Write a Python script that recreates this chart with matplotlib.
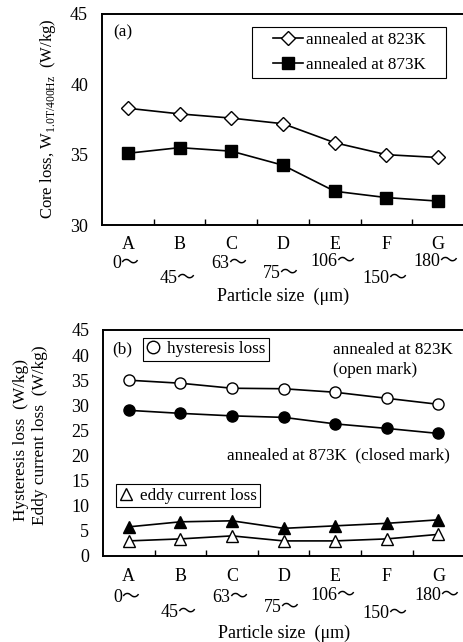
#!/usr/bin/env python3
"""Core loss and loss separation vs particle size, two stacked panels."""

import matplotlib
matplotlib.use("Agg")
import matplotlib.pyplot as plt
from matplotlib.lines import Line2D
from matplotlib.patches import Rectangle

plt.rcParams["font.family"] = ["Liberation Serif", "Noto Sans CJK JP"]
plt.rcParams["mathtext.fontset"] = "custom"
plt.rcParams["mathtext.rm"] = "Liberation Serif"
plt.rcParams["font.size"] = 12.5

letters = ["A", "B", "C", "D", "E", "F", "G"]
sizes = ["0～", "45～", "63～", "75～", "106～", "150～", "180～"]

core_823 = [38.3, 37.9, 37.6, 37.2, 35.85, 35.0, 34.8]
core_873 = [35.1, 35.5, 35.25, 34.25, 32.4, 31.95, 31.7]

hyst_823 = [35.0, 34.4, 33.4, 33.3, 32.6, 31.4, 30.2]
hyst_873 = [29.0, 28.4, 27.9, 27.6, 26.3, 25.4, 24.4]
eddy_823 = [3.0, 3.4, 4.0, 3.0, 3.0, 3.4, 4.3]
eddy_873 = [5.8, 6.8, 7.0, 5.5, 6.0, 6.5, 7.2]

x = list(range(len(letters)))

fig = plt.figure(figsize=(4.63, 6.42), dpi=100)
ax1 = fig.add_axes([0.2203, 0.6495, 0.782, 0.3287])
ax2 = fig.add_axes([0.2225, 0.134, 0.780, 0.352])

TICK = 13
TXT = 12.3


def style(ax, num_off, let_off, lab_off):
    ax.set_xlim(-0.5, 6.5)
    ax.set_xticks(x)
    ax.set_xticklabels([])
    ax.set_xticks([i + 0.5 for i in x[:-1]], minor=True)
    ax.tick_params(axis="x", which="major", length=0)
    ax.tick_params(axis="x", which="minor", direction="in", length=4, width=1)
    ax.tick_params(axis="y", length=0, pad=10, labelsize=TICK)
    for s in ax.spines.values():
        s.set_linewidth(1.4)
    for i in x:
        ax.annotate(letters[i], (i, 0), xycoords=("data", "axes fraction"),
                    xytext=(0, -let_off), textcoords="offset pixels",
                    ha="center", va="center", fontsize=TICK)
        ax.annotate(sizes[i], (i, 0), xycoords=("data", "axes fraction"),
                    xytext=(-2, -num_off[i]), textcoords="offset pixels",
                    ha="center", va="center", fontsize=TICK)
    ax.annotate("Particle size  (μm)", (0.5, 0), xycoords="axes fraction",
                xytext=(0, -lab_off), textcoords="offset pixels",
                ha="center", va="center", fontsize=13)


# (a) core loss
ax1.plot(x, core_823, "k-", lw=1.2, marker="D", ms=7, mfc="white", mec="k",
         mew=1.0, label="annealed at 823K")
ax1.plot(x, core_873, "k-", lw=1.2, marker="s", ms=9, mfc="k", mec="k",
         label="annealed at 873K")
ax1.set_ylim(30, 45)
ax1.set_yticks([30, 35, 40, 45])
style(ax1, [38, 53, 38, 48, 36, 53, 36], 19, 71)
ax1.text(0.03, 0.915, "(a)", transform=ax1.transAxes, ha="left", va="center",
         fontsize=TXT)
ax1.add_patch(Rectangle((0.414, 0.697), 0.536, 0.241, transform=ax1.transAxes,
                        fill=False, edgecolor="k", lw=0.8, zorder=4))
ax1.legend(loc="center", bbox_to_anchor=(0.684, 0.817), borderaxespad=0,
           frameon=False, handlelength=1.75, handletextpad=0.2,
           labelspacing=0.55, fontsize=TXT, borderpad=0)
fig.text(0.104, 0.815, "Core loss, W$_{\\mathrm{1.0T/400Hz}}$  (W/kg)",
         rotation=90, ha="center", va="center", fontsize=12)

# (b) hysteresis and eddy current loss
ax2.plot(x, hyst_823, "k-", lw=1.2, marker="o", ms=8, mfc="white", mec="k")
ax2.plot(x, hyst_873, "k-", lw=1.2, marker="o", ms=8, mfc="k", mec="k")
ax2.plot(x, eddy_873, "k-", lw=1.2, marker="^", ms=9, mfc="k", mec="k")
ax2.plot(x, eddy_823, "k-", lw=1.2, marker="^", ms=9, mfc="white", mec="k")
ax2.set_ylim(0, 45)
ax2.set_yticks(range(0, 46, 5))
style(ax2, [42, 57, 42, 52, 40, 58, 40], 21, 77)
ax2.text(0.025, 0.915, "(b)", transform=ax2.transAxes, ha="left",
         va="center", fontsize=TXT)

hyst_leg = ax2.legend(
    handles=[Line2D([], [], ls="none", marker="o", ms=9, mfc="white", mec="k")],
    labels=["hysteresis loss"], loc="upper left",
    bbox_to_anchor=(0.111, 0.965), borderaxespad=0, fancybox=False,
    edgecolor="k", framealpha=1, handlelength=0.8, handletextpad=0.4,
    borderpad=0.2, fontsize=TXT)
hyst_leg.get_frame().set_linewidth(0.8)
ax2.add_artist(hyst_leg)
eddy_leg = ax2.legend(
    handles=[Line2D([], [], ls="none", marker="^", ms=9, mfc="white", mec="k")],
    labels=["eddy current loss"], loc="upper left",
    bbox_to_anchor=(0.036, 0.317), borderaxespad=0, fancybox=False,
    edgecolor="k", framealpha=1, handlelength=0.8, handletextpad=0.4,
    borderpad=0.2, fontsize=TXT)
eddy_leg.get_frame().set_linewidth(0.8)

ax2.text(0.638, 0.912, "annealed at 823K", transform=ax2.transAxes,
         ha="left", va="center", fontsize=TXT)
ax2.text(0.638, 0.823, "(open mark)", transform=ax2.transAxes,
         ha="left", va="center", fontsize=TXT)
ax2.text(0.343, 0.447, "annealed at 873K  (closed mark)",
         transform=ax2.transAxes, ha="left", va="center", fontsize=TXT)

fig.text(0.045, 0.315, "Hysteresis loss  (W/kg)", rotation=90,
         ha="center", va="center", fontsize=12.4)
fig.text(0.087, 0.322, "Eddy current loss  (W/kg)", rotation=90,
         ha="center", va="center", fontsize=12.4)

fig.savefig("out.png", dpi=100)
